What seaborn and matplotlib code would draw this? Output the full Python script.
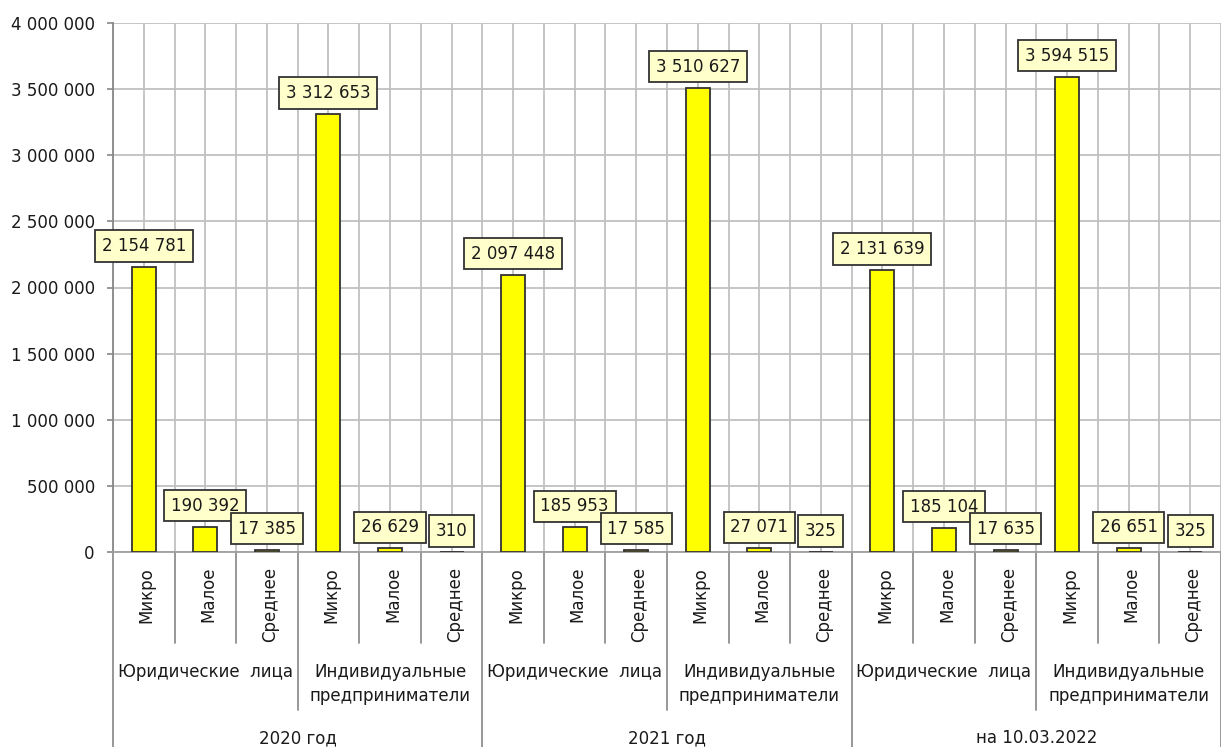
import numpy as np
import pandas as pd
import matplotlib
matplotlib.use("Agg")
import matplotlib.pyplot as plt
import seaborn as sns
from matplotlib.transforms import blended_transform_factory

# ---- data ----
years = ["2020 год", "2021 год", "на 10.03.2022"]
types = ["Юридические  лица", "Индивидуальные\nпредприниматели"]
sizes = ["Микро", "Малое", "Среднее"]
values_2020 = [2154781, 190392, 17385, 3312653, 26629, 310]
values_2021 = [2097448, 185953, 17585, 3510627, 27071, 325]
values_2022 = [2131639, 185104, 17635, 3594515, 26651, 325]
y_ticks = [0, 500000, 1000000, 1500000, 2000000, 2500000, 3000000, 3500000, 4000000]

rows = []
for y, vals in zip(years, [values_2020, values_2021, values_2022]):
    k = 0
    for t in types:
        for s in sizes:
            rows.append({"year": y, "type": t, "size": s, "value": vals[k],
                         "key": f"{y}|{t}|{s}"})
            k += 1
df = pd.DataFrame(rows)


def fmt(v):
    return f"{int(v):,}".replace(",", " ")


sns.set_theme(style="white")
plt.rcParams["font.family"] = ["DejaVu Sans"]

W, H = 1221, 747
fig = plt.figure(figsize=(W / 100, H / 100), dpi=100)
ax = fig.add_axes([113 / W, 1 - 552 / H, (W - 113) / W, (552 - 23) / H])

sns.barplot(data=df, x="key", y="value", order=list(df["key"]), color="#FFFF00",
            saturation=1, edgecolor="#333333", linewidth=1.3, width=0.39, ax=ax, zorder=3)

ax.set_xlim(-0.5, len(df) - 0.5)
ax.set_ylim(0, 4000000)
ax.set_xticks(np.arange(-0.5, len(df), 0.5))
ax.set_xticklabels([])
ax.set_yticks(y_ticks)
ax.set_yticklabels([fmt(v) for v in y_ticks])
ax.tick_params(axis="x", length=0, labelbottom=False)
ax.tick_params(axis="y", left=True, length=4.5, width=1.2, color="#888888", pad=8.6,
               labelsize=12, labelcolor="#1a1a1a")
ax.grid(True, color="#C0C0C0", lw=1.3)
ax.set_axisbelow(True)
ax.set_xlabel("")
ax.set_ylabel("")
for side in ["top", "right"]:
    ax.spines[side].set_visible(False)
ax.spines["left"].set_color("#888888")
ax.spines["left"].set_linewidth(1.3)
ax.spines["bottom"].set_color("#A0A0A0")
ax.spines["bottom"].set_linewidth(1.3)

# value labels
for i, v in enumerate(df["value"]):
    ax.annotate(fmt(v), xy=(i, v), xytext=(0, 12), textcoords="offset pixels",
                ha="center", va="bottom", fontsize=12, color="#1a1a1a", zorder=6,
                bbox=dict(boxstyle="square,pad=0.4", fc="#FFFFCC", ec="#333333", lw=1.3))

# multi-level category axis
tr = blended_transform_factory(ax.transData, fig.transFigure)


def fy(px):
    return 1 - px / H


sep_kw = dict(color="#909090", lw=1.3, transform=tr, clip_on=False)
n = len(df)
for b in np.arange(-0.5, n, 1.0):
    if abs((b + 0.5) % 6) < 1e-9:
        ax.plot([b, b], [fy(552), fy(747)], **sep_kw)
    elif abs((b + 0.5) % 3) < 1e-9:
        ax.plot([b, b], [fy(552), fy(710)], **sep_kw)
    else:
        ax.plot([b, b], [fy(552), fy(643)], **sep_kw)

for i, s in enumerate(df["size"]):
    ax.text(i + 0.05, fy(567), s, rotation=90, ha="center", va="top", fontsize=12,
            color="#1a1a1a", transform=tr)

for g in range(6):
    t = types[g % 2]
    ax.text(g * 3 + 1, fy(663), t, ha="center", va="top", fontsize=12,
            color="#1a1a1a", transform=tr, linespacing=1.45)

for j, y in enumerate(years):
    ax.text(j * 6 + 2.5, fy(738), y, ha="center", va="center", fontsize=12,
            color="#1a1a1a", transform=tr)

fig.savefig("out.png", dpi=100)
